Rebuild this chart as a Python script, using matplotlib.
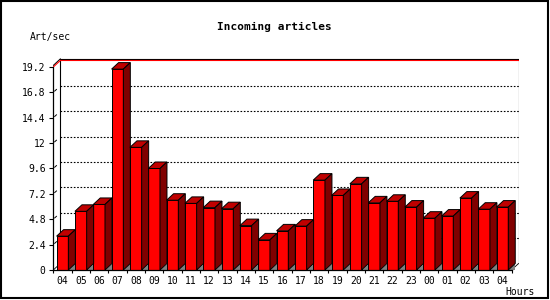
import numpy as np
import matplotlib
matplotlib.use("Agg")
import matplotlib.pyplot as plt
from matplotlib.patches import Polygon, Rectangle

# datos
hours = ["04", "05", "06", "07", "08", "09", "10", "11", "12", "13", "14", "15", "16",
         "17", "18", "19", "20", "21", "22", "23", "00", "01", "02", "03", "04"]
rate = [3.2, 5.55, 6.2, 19.0, 11.6, 9.6, 6.6, 6.3, 5.9, 5.8, 4.2, 2.85, 3.7,
        4.15, 8.5, 7.05, 8.15, 6.35, 6.5, 5.95, 4.9, 5.1, 6.8, 5.75, 5.95]
yticks = [0, 2.4, 4.8, 7.2, 9.6, 12, 14.4, 16.8, 19.2]
ytick_labels = ["0", "2.4", "4.8", "7.2", "9.6", "12", "14.4", "16.8", "19.2"]
ymax = 19.2

W, H = 550, 300
PXX, PXY = 18.33, 10.573          # px por categoria / por unidad
DX, DY = 7 / PXX, 6.5 / PXY       # profundidad 3D en unidades de datos
BW = 0.64

plt.rcParams["font.family"] = ["DejaVu Sans Mono"]
fig = plt.figure(figsize=(W / 100, H / 100), dpi=100)
n = len(rate)
x0, x1 = -0.5, n - 0.5 + DX
y1 = ymax + DY + 0.15
ax = fig.add_axes([53.3 / W, 30 / H, (x1 - x0) * PXX / W, (y1 + 0.05) * PXY / H])
ax.set_xlim(x0, x1)
ax.set_ylim(0, y1 + 0.05)

# plano de fondo
bx = -0.5 + DX
ex = n - 0.5 + DX
for v in yticks[1:-1]:
    ax.plot([bx, ex], [v + DY, v + DY], color="black", lw=0.8,
            ls=(0, (1.5, 1.5)), zorder=1)
ax.plot([bx, bx], [DY, y1], color="black", lw=0.8, zorder=1)
ax.plot([ex, ex], [DY, y1], color="black", lw=0.8, zorder=1)
ax.plot([bx, ex], [y1, y1], color="black", lw=0.8, zorder=1)
ax.plot([-0.5, bx], [ymax + 0.15, y1], color="black", lw=0.7, zorder=1)
ax.plot([bx, ex], [ymax + DY, ymax + DY], color="red", lw=0.8, zorder=1)
ax.plot([-0.5, bx], [ymax, ymax + DY], color="red", lw=0.8, zorder=1)
ax.plot([-0.5, -0.5 + DX], [0, DY], color="black", lw=0.6, zorder=1)
ax.plot([n - 0.5, ex], [0, DY], color="black", lw=0.6, zorder=1)
# marcas diagonales de los ticks
for v in yticks[1:-1]:
    ax.plot([-0.5 + DX * 0.2, -0.5 + DX * 0.45], [v + DY * 0.2, v + DY * 0.45],
            color="black", lw=0.7, zorder=1)

# barras 3D
xs = np.arange(n)
ax.bar(xs, rate, width=BW, color="#ff0000", edgecolor="black", lw=0.7, zorder=3)
for x, h in zip(xs, rate):
    xl, xr = x - BW / 2, x + BW / 2
    ax.add_patch(Polygon([(xr, 0), (xr + DX, 0), (xr + DX, DY)], closed=True,
                         fc="#808080", ec="none", zorder=2))
    ax.add_patch(Polygon([(xl, h), (xr, h), (xr + DX, h + DY), (xl + DX, h + DY)],
                         closed=True, fc="#c00000", ec="black", lw=0.7, zorder=3))
    ax.add_patch(Polygon([(xr, 0), (xr + DX, DY), (xr + DX, h + DY), (xr, h)],
                         closed=True, fc="#800000", ec="black", lw=0.7, zorder=3))

# ejes
for s in ("top", "right"):
    ax.spines[s].set_visible(False)
ax.spines["left"].set_bounds(0, ymax)
ax.spines["bottom"].set_bounds(-0.5, n - 0.5)
for s in ("left", "bottom"):
    ax.spines[s].set_linewidth(0.9)
    ax.spines[s].set_zorder(4)
ax.set_yticks(yticks)
ax.set_yticklabels(ytick_labels)
ax.set_xticks(xs)
ax.set_xticklabels(hours)
ax.set_xticks(np.arange(n + 1) - 0.5, minor=True)
ax.tick_params(axis="y", length=3, width=0.8, pad=2.5, labelsize=7)
ax.tick_params(axis="x", which="major", length=0, pad=4.2, labelsize=7)
ax.tick_params(axis="x", which="minor", length=2.5, width=0.8)

fig.text(274 / W, 1 - 26.5 / H, "Incoming articles", ha="center", va="center",
         fontsize=8, fontweight="bold")
fig.text(30 / W, 1 - 37 / H, "Art/sec", ha="left", va="center", fontsize=7)
fig.text(505 / W, 1 - 292 / H, "Hours", ha="left", va="center", fontsize=7)
fig.patches.append(Rectangle((0.5 / W, 2.5 / H), 547.5 / W, 297 / H,
                             transform=fig.transFigure, fill=False,
                             ec="black", lw=1.5))

fig.savefig("out.png", dpi=100)
